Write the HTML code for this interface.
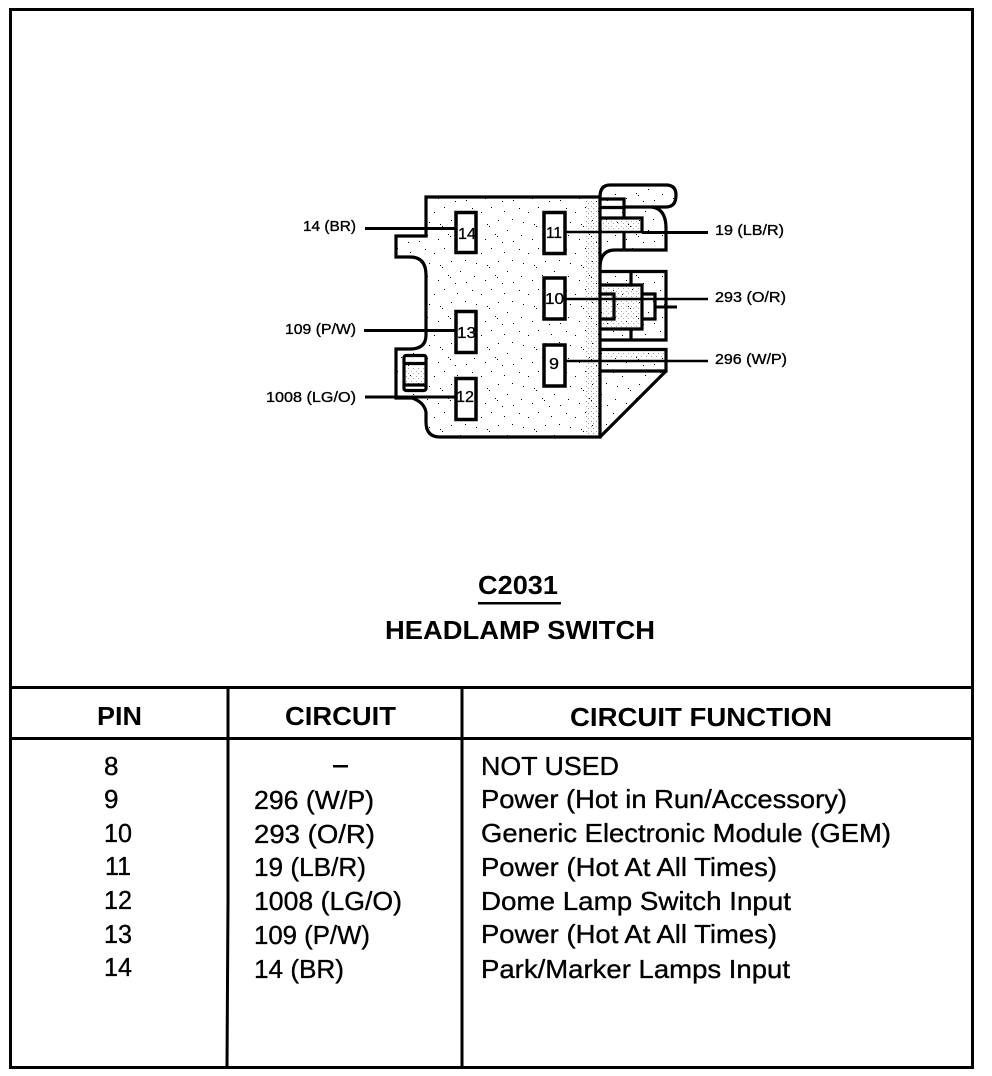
<!DOCTYPE html>
<html><head><meta charset="utf-8"><style>
html,body{margin:0;padding:0;background:#fff}
svg{display:block}
text{font-family:"Liberation Sans",sans-serif;fill:#000}
.t{font-size:26px;stroke:#000;stroke-width:.35px}
.h{font-size:26px;font-weight:bold}
.s{font-size:15px;stroke:#000;stroke-width:.35px}
.p{font-size:16px;stroke:#000;stroke-width:.3px}
</style></head><body>
<svg width="992" height="1076" viewBox="0 0 992 1076" xmlns="http://www.w3.org/2000/svg">
<defs>
<pattern id="st" width="47" height="41" patternUnits="userSpaceOnUse">
<g fill="#000">
<rect x="2" y="3" width="1" height="1"/><rect x="11" y="7" width="1" height="1"/><rect x="21" y="2" width="1" height="1"/><rect x="34" y="6" width="1" height="1"/><rect x="42" y="14" width="1" height="1"/><rect x="6" y="17" width="1" height="1"/><rect x="17" y="19" width="1" height="1"/><rect x="19" y="21" width="1" height="1"/><rect x="28" y="15" width="1" height="1"/><rect x="37" y="25" width="1" height="1"/><rect x="4" y="30" width="1" height="1"/><rect x="15" y="34" width="1" height="1"/><rect x="25" y="29" width="1" height="1"/><rect x="27" y="31" width="1" height="1"/><rect x="43" y="36" width="1" height="1"/><rect x="32" y="37" width="1" height="1"/>
</g></pattern>
<pattern id="st2" width="5" height="5" patternUnits="userSpaceOnUse"><rect x="1" y="1" width="1" height="1"/><rect x="3" y="3" width="1" height="1"/></pattern>
</defs>
<rect width="992" height="1076" fill="#fff"/>

<!-- outer frame and table -->
<g fill="none" stroke="#000">
<rect x="10.5" y="9.5" width="962" height="1058" stroke-width="3"/>
<path d="M10 687.5H973M10 738.5H973" stroke-width="3"/>
<path d="M228 687V900L227 1067" stroke-width="3"/>
<path d="M462 687V1067" stroke-width="3"/>
</g>

<!-- connector fills -->
<path d="M426 197H600V437H440Q426 437 426 422Q426 402 412 398H396V349H410Q426 349 426 335V275Q426 257 410 257H396V236H426Z" fill="url(#st)"/>
<rect x="585" y="199" width="15" height="237" fill="url(#st2)" opacity=".4"/>
<path d="M600 197V185H668Q676 185 676 195Q676 207 668 207H655Q667 210 667 228V250H615Q600 250 600 268ZM600 271H666V340H600ZM600 349H666V371L600 437Z" fill="url(#st)"/>
<path d="M602 220H640V232H602ZM602 286H640V328H602ZM604 352H664V358H604ZM404 367H426V384H404Z" fill="url(#st2)" opacity=".35"/>

<!-- connector outline -->
<g fill="none" stroke="#000" stroke-width="3.200">
<path d="M426 197H600V437H440Q426 437 426 422V412Q424 402 412 398H396V349H410Q426 349 426 335V275Q426 257 410 257H396V236H426Z"/>
<path d="M600 197Q600 185 610 185H666Q676 185 676 195Q676 207 666 207H624"/>
<path d="M652 207Q666 209 666 228V250H615Q600 250 600 268"/>
<path d="M600 199H624V218M600 207.500H624M600 218H642V232M624 232V250"/>
<path d="M600 271.500H666V340H600M631 271V285M631 329V340"/>
<path d="M600 285H642V329H600M600 294H614V319H600M642 294H655V319H642"/>
<path d="M600 349.500H666V371H600M666 371L600 437"/>
<rect x="404" y="355.500" width="22" height="35" rx="2"/>
<path d="M404 363.500H426M404 385H426"/>
<!-- pins -->
<g fill="#fff" stroke-width="3.500">
<rect x="456" y="212.500" width="20" height="40"/>
<rect x="456" y="311.500" width="20" height="41"/>
<rect x="456" y="378.500" width="20" height="41"/>
<rect x="544" y="212.500" width="21" height="41"/>
<rect x="544" y="278" width="21" height="41"/>
<rect x="544" y="345" width="21" height="41"/>
</g>
<!-- wires -->
<path d="M365 228.500H456M364 330.500H456M365 397H456" stroke-width="3"/>
<path d="M565 232H642" stroke-width="2.500"/><path d="M642 232.500H708" stroke-width="3"/>
<path d="M565 299H708M565 361H708" stroke-width="2.500"/>
<path d="M655 307H677" stroke-width="3"/>
</g>

<!-- pin numbers -->
<text class="p" x="458" y="239" textLength="18" lengthAdjust="spacingAndGlyphs">14</text>
<text class="p" x="457" y="338" textLength="19" lengthAdjust="spacingAndGlyphs">13</text>
<text class="p" x="456" y="402" textLength="18" lengthAdjust="spacingAndGlyphs">12</text>
<text class="p" x="546" y="238" textLength="16" lengthAdjust="spacingAndGlyphs">11</text>
<text class="p" x="545" y="304" textLength="19" lengthAdjust="spacingAndGlyphs">10</text>
<text class="p" x="549" y="369" textLength="10" lengthAdjust="spacingAndGlyphs">9</text>

<!-- wire labels -->
<text class="s" x="303" y="231" textLength="53" lengthAdjust="spacingAndGlyphs">14 (BR)</text>
<text class="s" x="285" y="334" textLength="71" lengthAdjust="spacingAndGlyphs">109 (P/W)</text>
<text class="s" x="266" y="402" textLength="90" lengthAdjust="spacingAndGlyphs">1008 (LG/O)</text>
<text class="s" x="715" y="235" textLength="69" lengthAdjust="spacingAndGlyphs">19 (LB/R)</text>
<text class="s" x="715" y="302" textLength="71" lengthAdjust="spacingAndGlyphs">293 (O/R)</text>
<text class="s" x="715" y="364" textLength="72" lengthAdjust="spacingAndGlyphs">296 (W/P)</text>

<!-- title -->
<text class="h" x="478" y="594" textLength="80" lengthAdjust="spacingAndGlyphs">C2031</text>
<rect x="478" y="602" width="83" height="2.500" fill="#000"/>
<text class="h" x="385" y="639" textLength="270" lengthAdjust="spacingAndGlyphs">HEADLAMP SWITCH</text>

<!-- header -->
<text class="h" x="97" y="725" textLength="45" lengthAdjust="spacingAndGlyphs">PIN</text>
<text class="h" x="285" y="725" textLength="111" lengthAdjust="spacingAndGlyphs">CIRCUIT</text>
<text class="h" x="570" y="726" textLength="262" lengthAdjust="spacingAndGlyphs">CIRCUIT FUNCTION</text>

<!-- pin col -->
<text class="t" x="104" y="775">8</text>
<text class="t" x="104" y="808">9</text>
<text class="t" x="104" y="842" textLength="28" lengthAdjust="spacingAndGlyphs">10</text>
<text class="t" x="105" y="875" textLength="26" lengthAdjust="spacingAndGlyphs">11</text>
<text class="t" x="104" y="909" textLength="28" lengthAdjust="spacingAndGlyphs">12</text>
<text class="t" x="104" y="943" textLength="28" lengthAdjust="spacingAndGlyphs">13</text>
<text class="t" x="104" y="976" textLength="28" lengthAdjust="spacingAndGlyphs">14</text>

<!-- circuit col -->
<rect x="333" y="765" width="15" height="2.500" fill="#000"/>
<text class="t" x="254" y="809" textLength="120" lengthAdjust="spacingAndGlyphs">296 (W/P)</text>
<text class="t" x="254" y="843" textLength="121" lengthAdjust="spacingAndGlyphs">293 (O/R)</text>
<text class="t" x="254" y="876" textLength="112" lengthAdjust="spacingAndGlyphs">19 (LB/R)</text>
<text class="t" x="254" y="910" textLength="148" lengthAdjust="spacingAndGlyphs">1008 (LG/O)</text>
<text class="t" x="254" y="944" textLength="116" lengthAdjust="spacingAndGlyphs">109 (P/W)</text>
<text class="t" x="254" y="978" textLength="90" lengthAdjust="spacingAndGlyphs">14 (BR)</text>

<!-- function col -->
<text class="t" x="481" y="775" textLength="138" lengthAdjust="spacingAndGlyphs">NOT USED</text>
<text class="t" x="481" y="808" textLength="366" lengthAdjust="spacingAndGlyphs">Power (Hot in Run/Accessory)</text>
<text class="t" x="481" y="842" textLength="410" lengthAdjust="spacingAndGlyphs">Generic Electronic Module (GEM)</text>
<text class="t" x="481" y="876" textLength="296" lengthAdjust="spacingAndGlyphs">Power (Hot At All Times)</text>
<text class="t" x="481" y="910" textLength="310" lengthAdjust="spacingAndGlyphs">Dome Lamp Switch Input</text>
<text class="t" x="481" y="943" textLength="296" lengthAdjust="spacingAndGlyphs">Power (Hot At All Times)</text>
<text class="t" x="481" y="978" textLength="309" lengthAdjust="spacingAndGlyphs">Park/Marker Lamps Input</text>
</svg>
</body></html>
